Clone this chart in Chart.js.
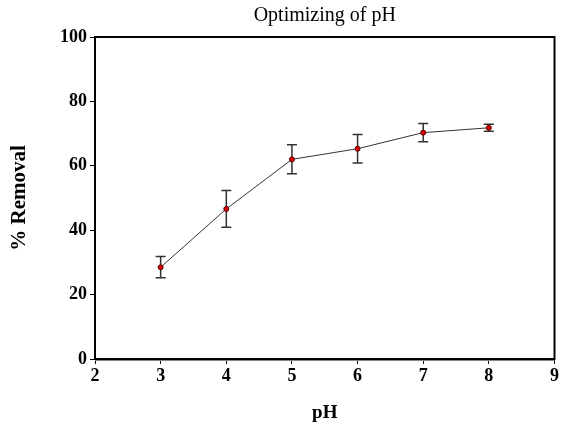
<!DOCTYPE html>
<html>
<head>
<meta charset="utf-8">
<script src="https://cdn.jsdelivr.net/npm/chart.js@4.4.1/dist/chart.umd.min.js"></script>
<style>
  html, body { margin: 0; padding: 0; background: #fff; }
  #wrap { width: 561px; height: 425px; }
</style>
</head>
<body>
<div id="wrap"><canvas id="chart" width="561" height="425"></canvas></div>
<script>
// data
const phValues = [3, 4, 5, 6, 7, 8];
const removal = [28.5, 46.6, 62.0, 65.3, 70.3, 71.8];
const removalErr = [3.3, 5.7, 4.5, 4.4, 2.8, 1.1];
const chartTitle = 'Optimizing of pH';
const xLabel = 'pH';
const yLabel = '% Removal';

const serif = '"Liberation Serif", "Times New Roman", serif';

// error bars, drawn before the points so the dots sit on top
const errorBars = {
    id: 'errorBars',
    beforeDatasetsDraw(chart) {
        const {ctx, scales: {x, y}} = chart;
        ctx.save();
        ctx.strokeStyle = '#333';
        ctx.lineWidth = 1.5;
        phValues.forEach((ph, i) => {
            const px = x.getPixelForValue(ph);
            const top = y.getPixelForValue(removal[i] + removalErr[i]);
            const bot = y.getPixelForValue(removal[i] - removalErr[i]);
            ctx.beginPath();
            ctx.moveTo(px, top); ctx.lineTo(px, bot);
            ctx.moveTo(px - 5, top); ctx.lineTo(px + 5, top);
            ctx.moveTo(px - 5, bot); ctx.lineTo(px + 5, bot);
            ctx.stroke();
        });
        ctx.restore();
    }
};

// black frame round the plot and the title above it
const frame = {
    id: 'frame',
    afterDraw(chart) {
        const {ctx, chartArea: a} = chart;
        ctx.save();
        ctx.strokeStyle = '#000';
        ctx.lineWidth = 2;
        ctx.strokeRect(a.left, a.top, a.right - a.left, a.bottom - a.top);
        // faint second line under the x axis
        ctx.strokeStyle = '#888';
        ctx.lineWidth = 1;
        ctx.beginPath();
        ctx.moveTo(a.left, a.bottom + 1.5);
        ctx.lineTo(a.right, a.bottom + 1.5);
        ctx.stroke();
        ctx.fillStyle = '#000';
        ctx.font = '20px ' + serif;
        ctx.textAlign = 'center';
        ctx.textBaseline = 'middle';
        ctx.fillText(chartTitle, (a.left + a.right) / 2, 16);
        ctx.restore();
    }
};

const ctx = document.getElementById('chart').getContext('2d');
new Chart(ctx, {
    type: 'line',
    data: {
        datasets: [{
            data: phValues.map((ph, i) => ({x: ph, y: removal[i]})),
            borderColor: '#333',
            borderWidth: 1,
            pointRadius: 2.5,
            pointBackgroundColor: '#e00000',
            pointBorderColor: '#500',
            pointBorderWidth: 1,
            tension: 0,
        }]
    },
    options: {
        responsive: false,
        animation: false,
        layout: {padding: {top: 37, right: 6, left: 0, bottom: 0}},
        plugins: {
            legend: {display: false},
            tooltip: {enabled: false},
        },
        scales: {
            x: {
                type: 'linear',
                min: 2,
                max: 9,
                ticks: {
                    stepSize: 1,
                    color: '#000',
                    padding: 2,
                    font: {family: serif, size: 18, weight: 'bold'},
                },
                grid: {drawOnChartArea: false, drawTicks: true, tickLength: 5, color: '#000'},
                border: {display: true, color: '#000', width: 2},
                title: {
                    display: true,
                    text: xLabel,
                    color: '#000',
                    padding: {top: 0, bottom: 1},
                    font: {family: serif, size: 19, weight: 'bold'},
                },
                afterFit(scale) { scale.height = 66; },
            },
            y: {
                min: 0,
                max: 100,
                ticks: {
                    stepSize: 20,
                    color: '#000',
                    padding: 3,
                    font: {family: serif, size: 18, weight: 'bold'},
                },
                grid: {drawOnChartArea: false, drawTicks: true, tickLength: 5, color: '#000'},
                border: {display: true, color: '#000', width: 2},
                title: {
                    display: true,
                    text: yLabel,
                    color: '#000',
                    padding: {top: 7, bottom: 0},
                    font: {family: serif, size: 21, weight: 'bold'},
                },
                afterFit(scale) { scale.width = 95; },
            },
        },
    },
    plugins: [errorBars, frame],
});
</script>
</body>
</html>
